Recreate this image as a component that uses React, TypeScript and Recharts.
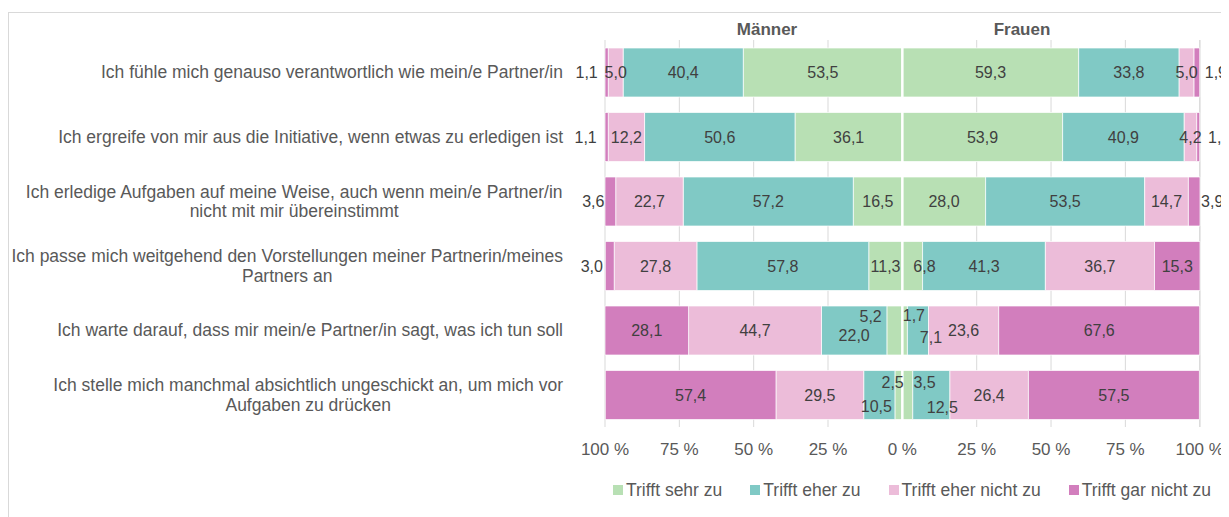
import {
  Bar,
  BarChart,
  CartesianGrid,
  LabelList,
  Legend,
  ReferenceLine,
  XAxis,
  YAxis,
} from 'recharts'

const categories = [
  'Ich fühle mich genauso verantwortlich wie mein/e Partner/in',
  'Ich ergreife von mir aus die Initiative, wenn etwas zu erledigen ist',
  'Ich erledige Aufgaben auf meine Weise, auch wenn mein/e Partner/in\nnicht mit mir übereinstimmt',
  'Ich passe mich weitgehend den Vorstellungen meiner Partnerin/meines\nPartners an',
  'Ich warte darauf, dass mir mein/e Partner/in sagt, was ich tun soll',
  'Ich stelle mich manchmal absichtlich ungeschickt an, um mich vor\nAufgaben zu drücken',
]

// Männer (nach links), Frauen (nach rechts), in Prozent
const menSehr = [53.5, 36.1, 16.5, 11.3, 5.2, 2.5]
const menEher = [40.4, 50.6, 57.2, 57.8, 22.0, 10.5]
const menEherNicht = [5.0, 12.2, 22.7, 27.8, 44.7, 29.5]
const menGar = [1.1, 1.1, 3.6, 3.0, 28.1, 57.4]
const womenSehr = [59.3, 53.9, 28.0, 6.8, 1.7, 3.5]
const womenEher = [33.8, 40.9, 53.5, 41.3, 7.1, 12.5]
const womenEherNicht = [5.0, 4.2, 14.7, 36.7, 23.6, 26.4]
const womenGar = [1.9, 1.0, 3.9, 15.3, 67.6, 57.5]

const xTicks = [-100, -75, -50, -25, 0, 25, 50, 75, 100]

const GREEN = '#b8e0b4'
const TEAL = '#80c9c5'
const PINK = '#ecbcd9'
const MAGENTA = '#d27ebd'
const TEXT = '#595959'
const FONT = '"Liberation Sans", Arial, sans-serif'

const data = categories.map((name, i) => ({
  name,
  mSehr: -menSehr[i],
  mEher: -menEher[i],
  mEherNicht: -menEherNicht[i],
  mGar: -menGar[i],
  wSehr: womenSehr[i],
  wEher: womenEher[i],
  wEherNicht: womenEherNicht[i],
  wGar: womenGar[i],
}))

// Handverschobene Beschriftungen (wie im Original), dx/dy in px
const nudges: Record<string, [number, number]> = {
  'mGar-0': [-20, 0],
  'mGar-1': [-21, 0],
  'mGar-2': [-17, 0],
  'mGar-3': [-18, 0],
  'wGar-0': [19, 0],
  'wGar-1': [21, 0],
  'wGar-2': [18, 0],
  'wSehr-3': [12, 0],
  'mSehr-4': [-24, -14],
  'mEher-4': [0, 5],
  'wSehr-4': [9, -15],
  'wEher-4': [13, 7],
  'mSehr-5': [-6, -13],
  'mEher-5': [-3, 11],
  'wSehr-5': [17, -13],
  'wEher-5': [11, 12],
}

const fmt = (v: number) => Math.abs(v).toFixed(1).replace('.', ',')

const CAT_SIZE = 17.5

let ctx: CanvasRenderingContext2D | null = null
function measure(text: string) {
  if (!ctx) {
    ctx = document.createElement('canvas').getContext('2d')
    if (ctx) ctx.font = `${CAT_SIZE}px ${FONT}`
  }
  return ctx ? ctx.measureText(text).width : text.length * 8
}

function CategoryTick({ x, y, payload }: any) {
  const lines = String(payload.value).split('\n')
  const block = Math.max(...lines.map(measure))
  const lh = 19.5
  const y0 = y - ((lines.length - 1) * lh) / 2
  return (
    <text textAnchor="middle" fill={TEXT} fontSize={CAT_SIZE} fontFamily={FONT}>
      {lines.map((l, i) => (
        <tspan key={i} x={x - block / 2} y={y0 + i * lh} dy="0.35em">
          {l}
        </tspan>
      ))}
    </text>
  )
}

const makeLabel = (key: string) => (props: any) => {
  const { x, y, width, height, value, index } = props
  const [dx, dy] = nudges[`${key}-${index}`] ?? [0, 0]
  return (
    <text
      x={Number(x) + Number(width) / 2 + dx}
      y={Number(y) + Number(height) / 2 + dy}
      textAnchor="middle"
      dominantBaseline="central"
      fill="#404040"
      fontSize={16}
      fontFamily={FONT}
    >
      {fmt(Number(value))}
    </text>
  )
}

const series = [
  { key: 'mSehr', name: 'Trifft sehr zu', color: GREEN, men: true },
  { key: 'mEher', name: 'Trifft eher zu', color: TEAL, men: true },
  { key: 'mEherNicht', name: 'Trifft eher nicht zu', color: PINK, men: true },
  { key: 'mGar', name: 'Trifft gar nicht zu', color: MAGENTA, men: true },
  { key: 'wSehr', name: 'Trifft sehr zu', color: GREEN, men: false },
  { key: 'wEher', name: 'Trifft eher zu', color: TEAL, men: false },
  { key: 'wEherNicht', name: 'Trifft eher nicht zu', color: PINK, men: false },
  { key: 'wGar', name: 'Trifft gar nicht zu', color: MAGENTA, men: false },
]

function SquareLegend() {
  return (
    <div
      style={{
        position: 'relative',
        top: -7,
        height: 40,
        paddingLeft: 605,
        display: 'flex',
        gap: 28,
        whiteSpace: 'nowrap',
        boxSizing: 'border-box',
      }}
    >
      {series
        .filter((s) => !s.men)
        .map((s) => (
          <div key={s.key} style={{ display: 'flex', alignItems: 'center', lineHeight: '18px' }}>
            <span style={{ width: 10, height: 10, background: s.color, marginRight: 3 }} />
            <span style={{ color: TEXT, fontSize: 17.5, fontFamily: FONT }}>{s.name}</span>
          </div>
        ))}
    </div>
  )
}

export default function App() {
  return (
    <div
      style={{
        position: 'relative',
        width: 1221,
        height: 509,
        overflow: 'hidden',
        fontFamily: FONT,
      }}
    >
      <div
        style={{
          position: 'absolute',
          left: 0,
          top: 4,
          width: 3000,
          height: 3000,
          border: '1px solid #d9d9d9',
        }}
      />
      <span style={{ position: 'absolute', left: 759, top: 22, transform: 'translate(-50%, -50%)', fontWeight: 700, fontSize: 17, color: TEXT }}>
        Männer
      </span>
      <span style={{ position: 'absolute', left: 1014, top: 22, transform: 'translate(-50%, -50%)', fontWeight: 700, fontSize: 17, color: TEXT }}>
        Frauen
      </span>
      <BarChart
        width={1221}
        height={509}
        data={data}
        layout="vertical"
        stackOffset="sign"
        margin={{ top: 32, right: 29, bottom: 0, left: 0 }}
        style={{ position: 'absolute', left: 0, top: 0 }}
      >
        <CartesianGrid horizontal={false} stroke="#d9d9d9" />
        <XAxis
          type="number"
          domain={[-100, 100]}
          ticks={xTicks}
          tickFormatter={(v: number) => `${Math.abs(v)} %`}
          axisLine={false}
          tickLine={false}
          height={50}
          tickMargin={10}
          tick={{ fill: TEXT, fontSize: 17, fontFamily: FONT }}
        />
        <YAxis
          type="category"
          dataKey="name"
          width={597}
          axisLine={false}
          tickLine={false}
          tickMargin={36}
          tick={<CategoryTick />}
          interval={0}
        />
        {series.map((s) => (
          <Bar
            key={s.key}
            dataKey={s.key}
            name={s.name}
            stackId="a"
            fill={s.color}
            stroke="#fff"
            strokeWidth={0.7}
            barSize={49}
            legendType={s.men ? 'none' : 'square'}
            isAnimationActive={false}
          >
            <LabelList dataKey={s.key} content={makeLabel(s.key)} />
          </Bar>
        ))}
        <ReferenceLine x={0} stroke="#fff" strokeWidth={2.5} />
        <Legend
          verticalAlign="bottom"
          align="left"
          content={<SquareLegend />}
          wrapperStyle={{ left: 0, width: 1221 }}
        />
      </BarChart>
    </div>
  )
}
